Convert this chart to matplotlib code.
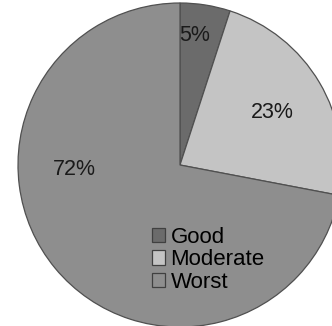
import matplotlib
matplotlib.use("Agg")
import matplotlib.pyplot as plt
from matplotlib.patches import Patch

categories = ["Good", "Moderate", "Worst"]
values = [5, 23, 72]
colors = ["#6b6b6b", "#c4c4c4", "#8e8e8e"]
label_pos = [(0.093, 0.800), (0.568, 0.325), (-0.654, -0.025)]

plt.rcParams['font.family'] = ['Liberation Sans', 'DejaVu Sans']

fig = plt.figure(figsize=(3.32, 3.26), dpi=100)
ax = fig.add_axes([0, 0, 1, 1])
wedges, texts, autotexts = ax.pie(
    values, colors=colors, startangle=90, counterclock=False, radius=1,
    autopct=lambda p: f"{p:.0f}%", pctdistance=0.7,
    wedgeprops=dict(edgecolor="#505050", linewidth=0.9),
    textprops=dict(fontsize=15.5, color="#1a1a1a"))
for t, (x, y) in zip(autotexts, label_pos):
    t.set_position((x, y))
ax.set_aspect('auto')
ax.set_xlim(-180 / 162, 152 / 162)
ax.set_ylim(-161 / 162, 165 / 162)
ax.axis('off')

handles = [Patch(facecolor=c, edgecolor="#404040", linewidth=0.9) for c in colors]
ax.legend(handles, categories, loc="upper left", bbox_to_anchor=(0.457, 0.305),
          frameon=False, fontsize=16, handlelength=0.6, handleheight=0.6,
          handletextpad=0.25, labelspacing=0.08, borderpad=0, borderaxespad=0)

fig.savefig("out.png", dpi=100)
